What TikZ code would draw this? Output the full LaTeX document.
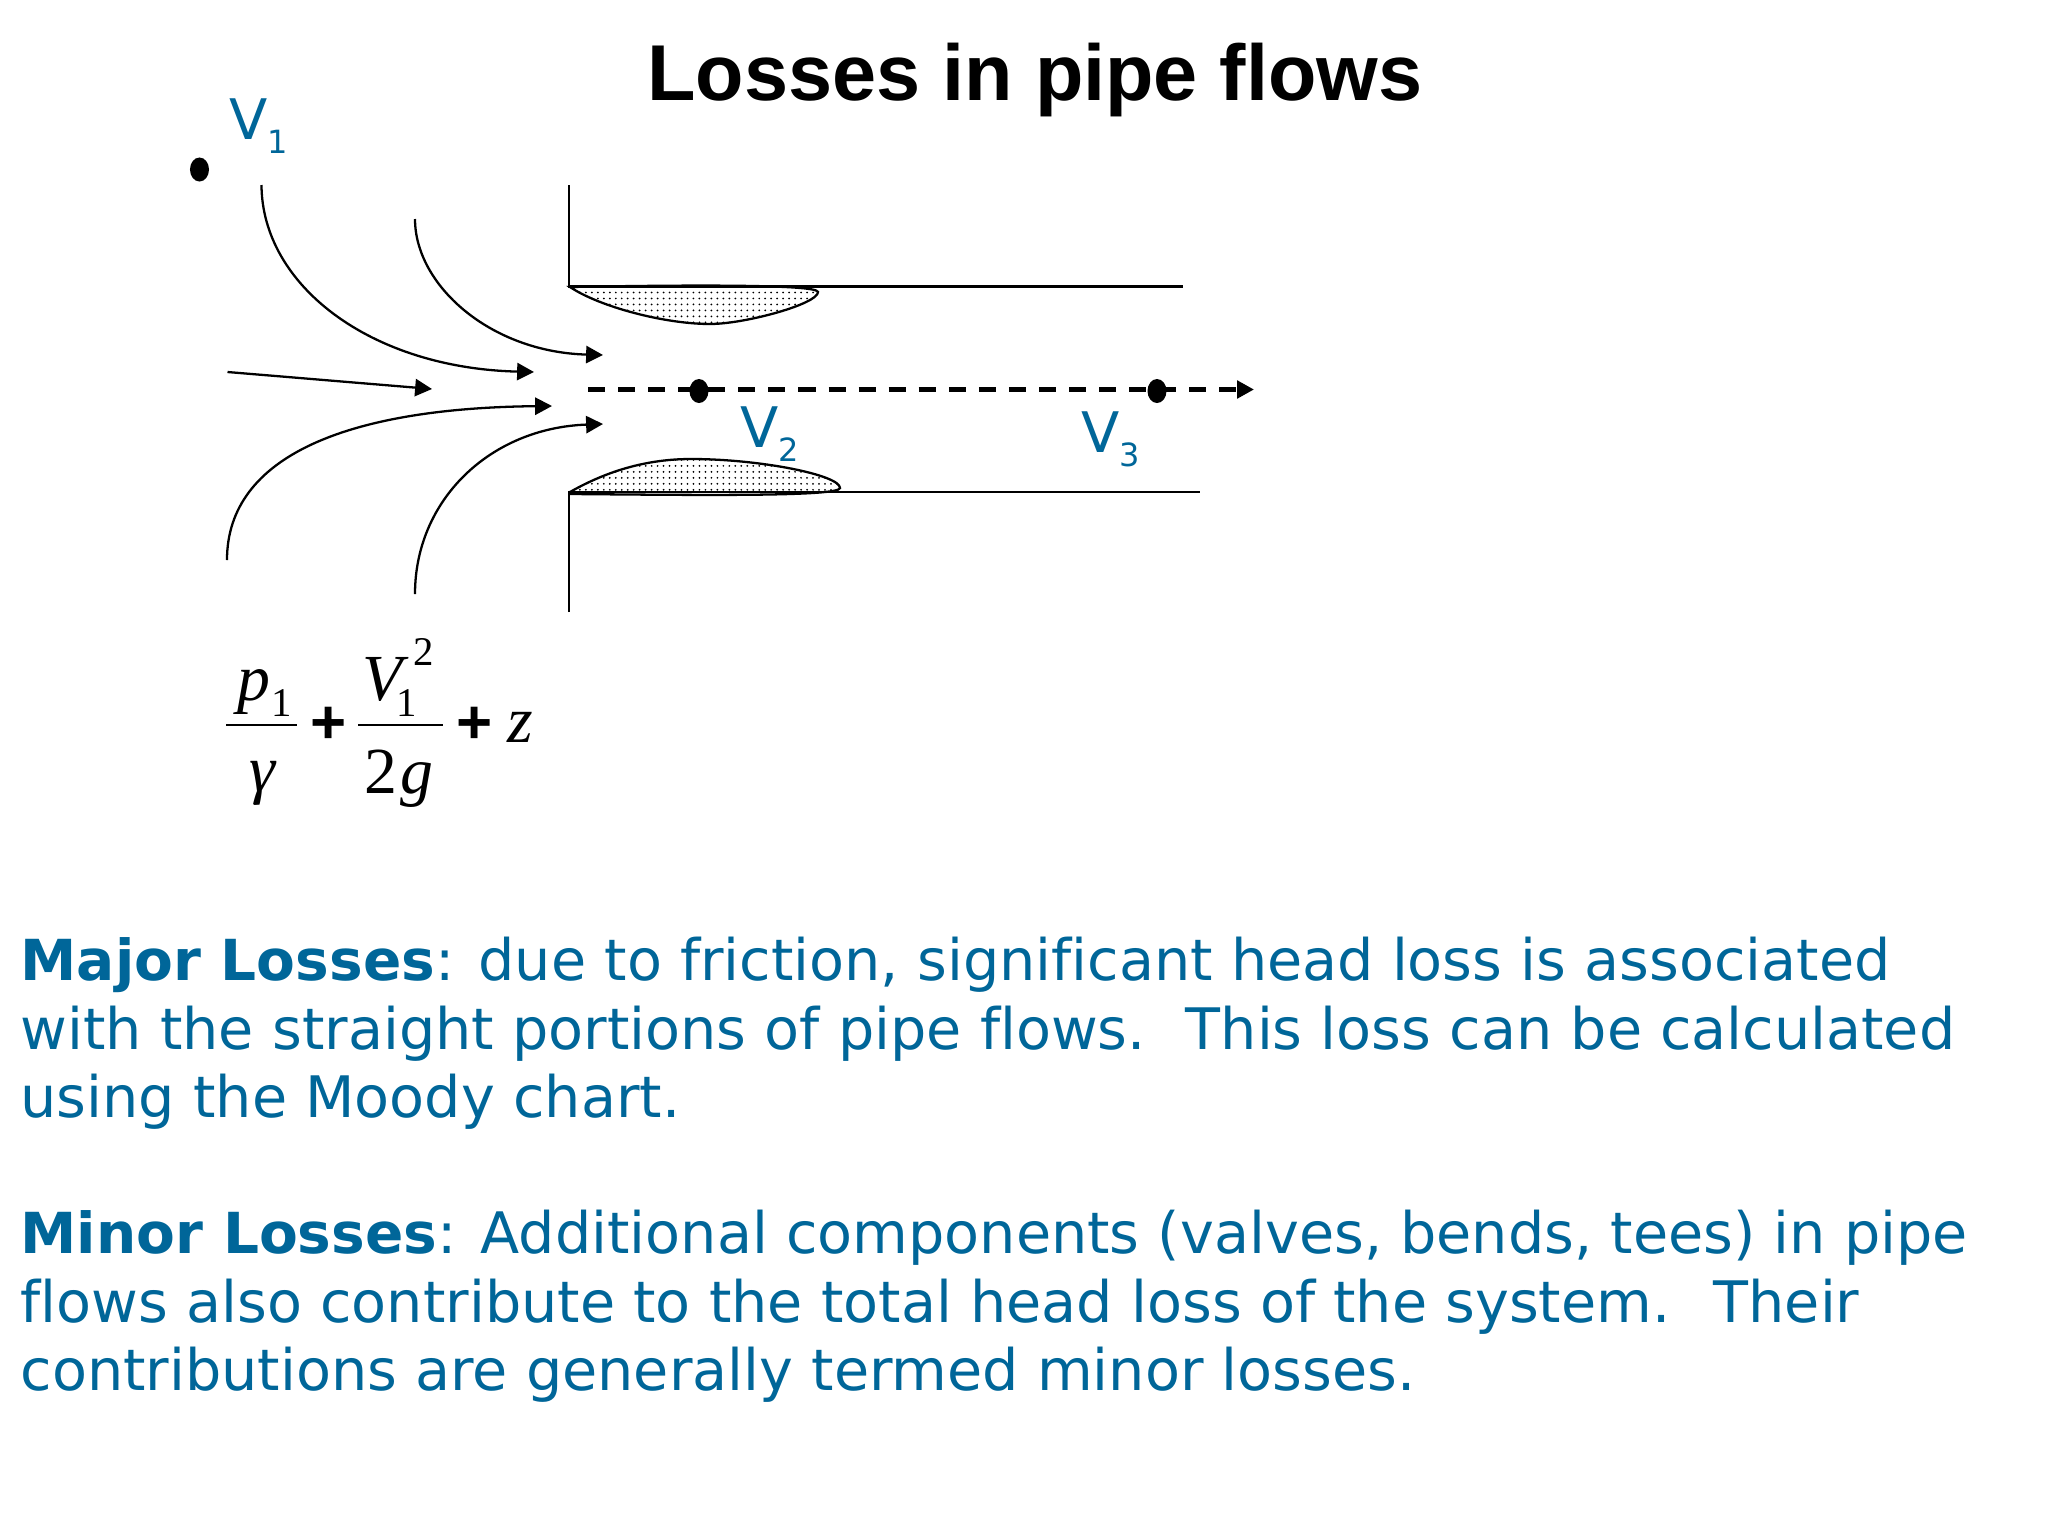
\documentclass[tikz,border=0pt]{standalone}
\usepackage{fontspec}
\setmainfont{DejaVu Sans}[Ligatures=NoCommon]
\newfontfamily\arialb{Liberation Sans}[BoldFont={Liberation Sans Bold}]
\newfontfamily\tms{Liberation Serif}
\usetikzlibrary{arrows.meta,patterns.meta,shapes.geometric}
\definecolor{tealblue}{HTML}{006699}
\newcommand{\lead}[1]{{\fontsize{16.08pt}{17pt}\selectfont\textbf{#1}}}
\tikzset{
  flow/.style={line width=0.65pt,-{Triangle[length=4.8pt,width=4.9pt]}},
  wall/.style={line width=0.65pt},
  centre/.style={line width=1.3pt,dash pattern=on 4.85pt off 3.7pt,-{Triangle[length=4.8pt,width=4.9pt]}},
  lump/.style={line width=0.65pt,pattern={Dots[distance=1.7pt,radius=0.28pt]},pattern color=black},
  probe/.style={fill=black,ellipse,inner sep=0pt,minimum width=0.19cm,minimum height=0.24cm},
  vel/.style={anchor=base west,inner sep=0pt,text=tealblue,font=\fontsize{15.9pt}{16pt}\selectfont},
  velsub/.style={anchor=base west,inner sep=0pt,text=tealblue,font=\fontsize{9.1pt}{10pt}\selectfont},
  body/.style={anchor=base west,inner sep=0pt,text=tealblue,font=\fontsize{16.27pt}{17pt}\selectfont},
  math/.style={anchor=base west,inner sep=0pt,font=\tms\itshape\fontsize{18.7pt}{19pt}\selectfont},
  mathn/.style={anchor=base west,inner sep=0pt,font=\tms\fontsize{18.7pt}{19pt}\selectfont},
  mathsm/.style={anchor=base west,inner sep=0pt,font=\tms\fontsize{11.6pt}{12pt}\selectfont},
  plusop/.style={anchor=center,inner sep=0pt,font=\arialb\bfseries\fontsize{17.6pt}{18pt}\selectfont},
  frac/.style={line width=0.7pt},
}
\begin{document}
\begin{tikzpicture}[x=0.01cm,y=-0.01cm]
\useasboundingbox (0,0) rectangle (2048,1536);
\node[anchor=base,inner sep=0pt,font=\arialb\bfseries\fontsize{22.53pt}{23pt}\selectfont] (title) at (1035,100) {Losses in pipe flows};

\node[probe] (d1) at (199.5,169.5) {};
\node[vel] (v1) at (229,139) {V};
\node[velsub] (v1s) at (267,153) {1};

% streamlines
\coordinate (a0) at (261.5,185); \coordinate (a1) at (534,372);
\coordinate (b0) at (415,219);   \coordinate (b1) at (603,355);
\coordinate (l0) at (227.5,372); \coordinate (l1) at (432,389);
\coordinate (c0) at (227,560);   \coordinate (c1) at (552,406);
\coordinate (e0) at (415,594);   \coordinate (e1) at (603,424);
\draw[flow] (a0) .. controls (262,285) and (370,368) .. (a1);
\draw[flow] (b0) .. controls (415,285) and (490,352) .. (b1);
\draw[flow] (l0) -- (l1);
\draw[flow] (c0) .. controls (227,455) and (350,408) .. (c1);
\draw[flow] (e0) .. controls (415,500) and (490,428) .. (e1);

% lumps
\draw[lump] (570,287) .. controls (600,307) and (665,324) .. (710,324) .. controls (745,324) and (818,304) .. (818,292) .. controls (818,284) and (680,285) .. (570,287) -- cycle;
\draw[lump] (570,492) .. controls (600,475) and (640,459) .. (691,459) .. controls (760,459) and (840,475) .. (840,488) .. controls (840,497) and (690,495) .. (570,494) -- cycle;

% pipe walls
\coordinate (u0) at (569,185); \coordinate (u1) at (569,286.5); \coordinate (u2) at (1183,286.5);
\coordinate (w0) at (569,612); \coordinate (w1) at (569,492);   \coordinate (w2) at (1200,492);
\draw[wall] (u0) -- (u1) -- (u2);
\draw[wall] (w0) -- (w1) -- (w2);

% centre line
\coordinate (k0) at (588,389.5); \coordinate (k1) at (1254,389.5);
\draw[centre] (k0) -- (k1);
\node[probe] (d2) at (699,391) {};
\node[probe] (d3) at (1157,391) {};

\node[vel] (v2) at (740,447) {V};
\node[velsub] (v2s) at (778,461) {2};
\node[vel] (v3) at (1081,452) {V};
\node[velsub] (v3s) at (1119,466) {3};

% equation
\node[math] (p) at (237,700) {p};
\node[mathsm] (p1) at (271,716) {1};
\draw[frac] (226,725) -- (297,725);
\node[math] (gam) at (249,791) {γ};
\node[plusop] (pl1) at (329,725) {+};
\node[math] (V) at (362,700) {V};
\node[mathsm] (V1) at (396,716) {1};
\node[mathsm] (V2) at (413,665) {2};
\draw[frac] (358,725) -- (443,725);
\node[mathn] (two) at (364,793) {2};
\node[math] (g) at (400,793) {g};
\node[plusop] (pl2) at (475,725) {+};
\node[math] (z) at (507,742) {z};

% text
\node[body] (m1) at (20,980.5) {\lead{Major Losses}: due to friction, significant head loss is associated};
\node[body] (m2) at (20,1049) {with the straight portions of pipe flows.~~\hspace{1pt}This loss can be calculated};
\node[body] (m3) at (20,1117.5) {using the Moody chart.};
\node[body] (n1) at (20,1253.5) {\lead{Minor Losses}: Additional components (valves, bends, tees) in pipe};
\node[body] (n2) at (20,1322) {flows also contribute to the total head loss of the system.~~\hspace{1.9pt}Their};
\node[body] (n3) at (20,1390.5) {contributions are generally termed minor losses.};
\end{tikzpicture}
\end{document}
